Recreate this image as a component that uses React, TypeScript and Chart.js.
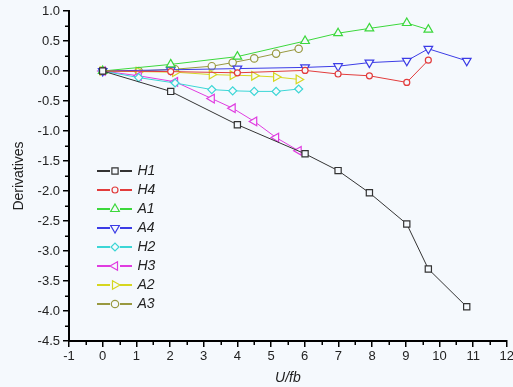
import React, { useEffect, useRef } from 'react';
import { Chart, registerables } from 'chart.js';

Chart.register(...registerables);

// ---- data ----
const seriesNames = ['H1', 'H4', 'A1', 'A4', 'H2', 'H3', 'A2', 'A3'];

const xLong = [0, 2.02, 4.0, 6.01, 6.99, 7.92, 9.03, 9.67, 10.81];
const xShort = [0, 1.07, 2.15, 3.24, 3.86, 4.5, 5.15, 5.82];

const h1Values = [0, -0.34, -0.895, -1.38, -1.66, -2.03, -2.55, -3.3, -3.93];
const h4Values = [0, -0.01, -0.03, 0.01, -0.05, -0.08, -0.19, 0.18];
const a1Values = [0, 0.11, 0.24, 0.5, 0.63, 0.71, 0.8, 0.69];
const a4Values = [0, 0.02, 0.04, 0.06, 0.08, 0.14, 0.17, 0.37, 0.17];
const h2Values = [0, -0.11, -0.2, -0.31, -0.33, -0.34, -0.34, -0.3];
const h3Values = [0, -0.08, -0.18, -0.46, -0.62, -0.84, -1.11, -1.33];
const a2Values = [0, -0.01, -0.02, -0.06, -0.07, -0.08, -0.1, -0.14];
const a3Values = [0, 0.0, 0.03, 0.08, 0.14, 0.21, 0.29, 0.37];

const xTickValues = [-1, 0, 1, 2, 3, 4, 5, 6, 7, 8, 9, 10, 11, 12];
const xTickLabels = ['-1', '0', '1', '2', '3', '4', '5', '6', '7', '8', '9', '10', '11', '12'];
const yTickValues = [-4.5, -4, -3.5, -3, -2.5, -2, -1.5, -1, -0.5, 0, 0.5, 1];
const yTickLabels = ['-4.5', '-4.0', '-3.5', '-3.0', '-2.5', '-2.0', '-1.5', '-1.0', '-0.5', '0.0', '0.5', '1.0'];

const BG = '#f5f9fd';
const FONT = "'Liberation Sans', Arial, sans-serif";

type Style = { color: string; point: string; rotation: number; radius: number };
const styles: Style[] = [
  { color: '#333333', point: 'rect', rotation: 0, radius: 4.4 },
  { color: '#e23c3c', point: 'circle', rotation: 0, radius: 3 },
  { color: '#3cd83c', point: 'triangle', rotation: 0, radius: 5 },
  { color: '#3c3ce6', point: 'triangle', rotation: 180, radius: 5 },
  { color: '#3cd6d6', point: 'rectRot', rotation: 0, radius: 4 },
  { color: '#e03ce0', point: 'triangle', rotation: 270, radius: 5 },
  { color: '#d6d620', point: 'triangle', rotation: 90, radius: 5 },
  { color: '#999940', point: 'circle', rotation: 0, radius: 3.7 },
];

const seriesX = [xLong, xLong, xLong, xLong, xShort, xShort, xShort, xShort];
const seriesY = [h1Values, h4Values, a1Values, a4Values, h2Values, h3Values, a2Values, a3Values];

function drawMarker(ctx: CanvasRenderingContext2D, s: Style, x: number, y: number) {
  const r = s.radius;
  ctx.beginPath();
  if (s.point === 'circle') {
    ctx.arc(x, y, r, 0, Math.PI * 2);
  } else if (s.point === 'rect') {
    const h = Math.SQRT1_2 * r;
    ctx.rect(x - h, y - h, 2 * h, 2 * h);
  } else if (s.point === 'rectRot') {
    ctx.moveTo(x - r, y);
    ctx.lineTo(x, y + r);
    ctx.lineTo(x + r, y);
    ctx.lineTo(x, y - r);
    ctx.closePath();
  } else {
    let rad = (s.rotation * Math.PI) / 180;
    ctx.moveTo(x + Math.sin(rad) * r, y - Math.cos(rad) * r);
    rad += (2 * Math.PI) / 3;
    ctx.lineTo(x + Math.sin(rad) * r, y - Math.cos(rad) * r);
    rad += (2 * Math.PI) / 3;
    ctx.lineTo(x + Math.sin(rad) * r, y - Math.cos(rad) * r);
    ctx.closePath();
  }
  ctx.fillStyle = BG;
  ctx.fill();
  ctx.lineWidth = 1.2;
  ctx.strokeStyle = s.color;
  ctx.stroke();
}

const minorTicks = {
  id: 'minorTicks',
  afterDraw(chart: any) {
    const { ctx, chartArea, scales } = chart;
    ctx.save();
    ctx.strokeStyle = '#000';
    ctx.lineWidth = 1.5;
    for (let i = 0; i < xTickValues.length - 1; i++) {
      const v = (xTickValues[i] + xTickValues[i + 1]) / 2;
      const px = Math.round(scales.x.getPixelForValue(v)) + 0.25;
      ctx.beginPath();
      ctx.moveTo(px, chartArea.bottom);
      ctx.lineTo(px, chartArea.bottom + 4);
      ctx.stroke();
    }
    for (let i = 0; i < yTickValues.length - 1; i++) {
      const v = (yTickValues[i] + yTickValues[i + 1]) / 2;
      const py = Math.round(scales.y.getPixelForValue(v)) + 0.25;
      ctx.beginPath();
      ctx.moveTo(chartArea.left, py);
      ctx.lineTo(chartArea.left - 4, py);
      ctx.stroke();
    }
    ctx.restore();
  },
};

const insideLegend = {
  id: 'insideLegend',
  afterDraw(chart: any) {
    const { ctx } = chart;
    ctx.save();
    const y0 = 171;
    const step = 19;
    seriesNames.forEach((name, i) => {
      const s = styles[i];
      const y = y0 + i * step;
      ctx.strokeStyle = s.color;
      ctx.lineWidth = 1.8;
      ctx.beginPath();
      ctx.moveTo(97, y);
      ctx.lineTo(110, y);
      ctx.moveTo(120, y);
      ctx.lineTo(132, y);
      ctx.stroke();
      drawMarker(ctx, s, 115, y);
      ctx.fillStyle = '#222';
      ctx.font = `italic 14px ${FONT}`;
      ctx.textBaseline = 'middle';
      ctx.textAlign = 'left';
      ctx.fillText(name, 137.5, y + 0.5);
    });
    ctx.restore();
  },
};

export default function App() {
  const ref = useRef<HTMLCanvasElement>(null);

  useEffect(() => {
    if (!ref.current) return;
    const datasets = seriesNames.map((name, i) => ({
      label: name,
      data: seriesY[i].map((y, j) => ({ x: seriesX[i][j], y })),
      borderColor: styles[i].color,
      borderWidth: 1,
      backgroundColor: BG,
      pointStyle: styles[i].point as any,
      pointRotation: styles[i].rotation,
      pointRadius: styles[i].radius,
      pointBorderWidth: 1.2,
      pointBorderColor: styles[i].color,
      pointBackgroundColor: BG,
      tension: 0,
      fill: false,
    }));

    const chart = new Chart(ref.current, {
      type: 'line',
      data: { datasets },
      plugins: [minorTicks, insideLegend],
      options: {
        animation: false,
        responsive: false,
        devicePixelRatio: 1,
        layout: { padding: { top: 11, right: 2, left: 0, bottom: 0 } },
        plugins: { legend: { display: false }, tooltip: { enabled: false } },
        scales: {
          x: {
            type: 'linear',
            min: -1,
            max: 12,
            afterBuildTicks: (s: any) => {
              s.ticks = xTickValues.map((v) => ({ value: v }));
            },
            afterFit: (s: any) => {
              s.height = 46;
              s.paddingLeft = 0;
              s.paddingRight = 0;
            },
            ticks: {
              autoSkip: false,
              maxRotation: 0,
              padding: 2,
              color: '#222',
              font: { family: FONT, size: 13 },
              callback: (_v: any, i: number) => xTickLabels[i],
            },
            grid: { drawOnChartArea: false, drawTicks: true, tickLength: 6, color: '#000', lineWidth: 1.5 },
            border: { display: true, color: '#000', width: 2 },
            title: {
              display: true,
              text: 'U/fb',
              color: '#222',
              font: { family: FONT, size: 14, style: 'italic' },
              padding: { top: 0, bottom: 0 },
            },
          },
          y: {
            type: 'linear',
            min: -4.5,
            max: 1,
            afterBuildTicks: (s: any) => {
              s.ticks = yTickValues.map((v) => ({ value: v }));
            },
            afterFit: (s: any) => {
              s.width = 69;
              s.paddingTop = 0;
              s.paddingBottom = 0;
            },
            ticks: {
              autoSkip: false,
              padding: 3,
              color: '#222',
              font: { family: FONT, size: 13 },
              callback: (_v: any, i: number) => yTickLabels[i],
            },
            grid: { drawOnChartArea: false, drawTicks: true, tickLength: 6, color: '#000', lineWidth: 1.5 },
            border: { display: true, color: '#000', width: 2 },
            title: {
              display: true,
              text: 'Derivatives',
              color: '#222',
              font: { family: FONT, size: 14 },
              padding: { top: 11, bottom: 0 },
            },
          },
        },
      },
    });
    return () => chart.destroy();
  }, []);

  return (
    <div style={{ position: 'fixed', left: 0, top: 0, width: 513, height: 387, background: BG }}>
      <canvas ref={ref} width={513} height={387} style={{ display: 'block' }} />
    </div>
  );
}
